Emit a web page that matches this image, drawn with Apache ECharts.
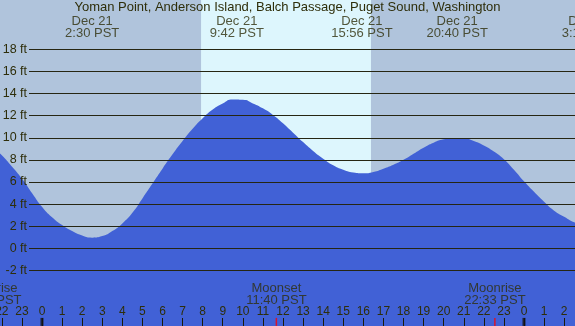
<!DOCTYPE html>
<html>
<head>
<meta charset="utf-8">
<script src="https://cdn.jsdelivr.net/npm/echarts@6/dist/echarts.min.js"></script>
<style>
html,body{margin:0;padding:0;}
#main{width:575px;height:326px;}
</style>
</head>
<body>
<div id="main"></div>
<script>
// tide height (ft) every half hour, hours from midnight Dec 21
var tideHours = [-3, -2.5, -2, -1.5, -1, -0.5, 0, 0.5, 1, 1.5, 2, 2.5, 3, 3.5, 4, 4.5, 5, 5.5, 6, 6.5,
    7, 7.5, 8, 8.5, 9, 9.5, 10, 10.5, 11, 11.5, 12, 12.5, 13, 13.5, 14, 14.5, 15, 15.5, 16, 16.5,
    17, 17.5, 18, 18.5, 19, 19.5, 20, 20.5, 21, 21.5, 22, 22.5, 23, 23.5, 24, 24.5, 25, 25.5, 26, 26.5, 27];
var tideFeet = [10.2, 9.3, 8.4, 7.4, 6.3, 5.0, 3.75, 2.8, 2.1, 1.55, 1.15, 0.96, 1.1, 1.55, 2.25, 3.2, 4.5, 5.85, 7.2, 8.5,
    9.7, 10.8, 11.75, 12.55, 13.1, 13.45, 13.42, 13.1, 12.65, 12.05, 11.3, 10.45, 9.6, 8.8, 8.1, 7.5, 7.1, 6.85, 6.78, 6.9,
    7.2, 7.55, 8.0, 8.55, 9.1, 9.55, 9.85, 9.98, 9.95, 9.7, 9.3, 8.75, 8.05, 7.1, 6.05, 5.1, 4.2, 3.4, 2.85, 2.35, 2.05];

var eventHours = [2.5, 9.7, 15.93, 20.67, 27.23];
var eventDates = ['Dec 21', 'Dec 21', 'Dec 21', 'Dec 21', 'Dec 22'];
var eventTimes = ['2:30 PST', '9:42 PST', '15:56 PST', '20:40 PST', '3:14 PST'];

var moonHours = [-2.55, 11.67, 22.55];
var moonNames = ['Moonrise', 'Moonset', 'Moonrise'];
var moonTimes = ['21:27 PST', '11:40 PST', '22:33 PST'];

var midnights = [0, 24];
var sunrise = 7.92, sunset = 16.38;

var title = 'Yoman Point, Anderson Island, Balch Passage, Puget Sound, Washington';

var txt = '#2e2e0a';
var font = 'Liberation Sans, Arial, sans-serif';

var myChart = echarts.init(document.getElementById('main'));

var tideData = [];
for (var i = 0; i < tideHours.length; i++) {
    tideData.push([tideHours[i], tideFeet[i]]);
}
var eventData = [];
for (var i = 0; i < eventHours.length; i++) {
    eventData.push({value: [eventHours[i], 20.0], name: eventDates[i] + '\n' + eventTimes[i]});
}
var moonData = [];
for (var i = 0; i < moonHours.length; i++) {
    moonData.push({value: [moonHours[i], -4.15], name: moonNames[i] + '\n' + moonTimes[i]});
}

var option = {
    backgroundColor: '#b0c4dc',
    animation: false,
    title: {
        text: title,
        left: 'center',
        top: 1,
        padding: 0,
        textStyle: {fontSize: 13, fontWeight: 'normal', color: txt, fontFamily: font}
    },
    grid: [
        {left: 0, right: 0, top: 0, bottom: 0, outerBoundsMode: 'none'},       // marks
        {left: 29, right: 0, top: 49.3, height: 221.2, outerBoundsMode: 'none'}, // ft lines
        {left: 1.83, right: 10.83, top: 290, bottom: 0, outerBoundsMode: 'none'} // hour ticks
    ],
    xAxis: [
        {gridIndex: 0, type: 'value', min: -2.0913, max: 26.54, show: false},
        {gridIndex: 1, type: 'value', min: 0, max: 1, show: false},
        {
            gridIndex: 2, type: 'value', min: -2, max: 26, interval: 1, z: 4,
            axisLine: {show: false},
            splitLine: {show: false},
            axisTick: {inside: true, length: 8, lineStyle: {color: '#1a1a0a', width: 1}},
            axisLabel: {
                inside: true, margin: 8, fontSize: 12, color: txt, fontFamily: font,
                showMinLabel: true, showMaxLabel: true, hideOverlap: false,
                formatter: function (v) { return ((v % 24) + 24) % 24; }
            }
        }
    ],
    yAxis: [
        {gridIndex: 0, type: 'value', min: -7.03, max: 22.45, show: false},
        {
            gridIndex: 1, type: 'value', min: -2, max: 18, interval: 2, z: 3,
            axisLine: {show: false},
            axisTick: {show: false},
            axisLabel: {margin: 2, fontSize: 12.5, color: txt, fontFamily: font, formatter: '{value} ft'},
            splitLine: {lineStyle: {color: '#262612', width: 1}}
        },
        {gridIndex: 2, type: 'value', min: 0, max: 1, show: false}
    ],
    series: [
        {
            type: 'line', xAxisIndex: 0, yAxisIndex: 0, z: 1,
            data: [],
            markArea: {
                silent: true,
                itemStyle: {color: '#ddf6fd'},
                data: [[{xAxis: sunrise}, {xAxis: sunset}]]
            }
        },
        {
            type: 'line', xAxisIndex: 0, yAxisIndex: 0, z: 2,
            smooth: 0.6,
            showSymbol: false,
            lineStyle: {width: 0},
            areaStyle: {color: '#4161d6', opacity: 1, origin: 'start'},
            data: tideData
        },
        {
            type: 'scatter', xAxisIndex: 0, yAxisIndex: 0, z: 5,
            clip: false, symbolSize: 0, silent: true,
            label: {
                show: true, position: 'inside', formatter: '{b}',
                fontSize: 13, lineHeight: 12, color: txt, fontFamily: font
            },
            data: eventData
        },
        {
            type: 'scatter', xAxisIndex: 0, yAxisIndex: 0, z: 5,
            clip: false, symbolSize: 0, silent: true,
            label: {
                show: true, position: 'inside', formatter: '{b}',
                fontSize: 13, lineHeight: 12, color: txt, fontFamily: font
            },
            data: moonData
        },
        {
            type: 'scatter', xAxisIndex: 0, yAxisIndex: 0, z: 6,
            symbol: 'rect', symbolSize: [1.5, 8], silent: true,
            itemStyle: {color: '#ff0000'},
            data: moonHours.slice(1).map(function (h) { return [h, -6.66]; })
        },
        {
            type: 'scatter', xAxisIndex: 0, yAxisIndex: 0, z: 6,
            symbol: 'rect', symbolSize: [3, 8], silent: true,
            itemStyle: {color: '#111'},
            data: midnights.map(function (h) { return [h, -6.66]; })
        }
    ]
};
myChart.setOption(option);
</script>
</body>
</html>
